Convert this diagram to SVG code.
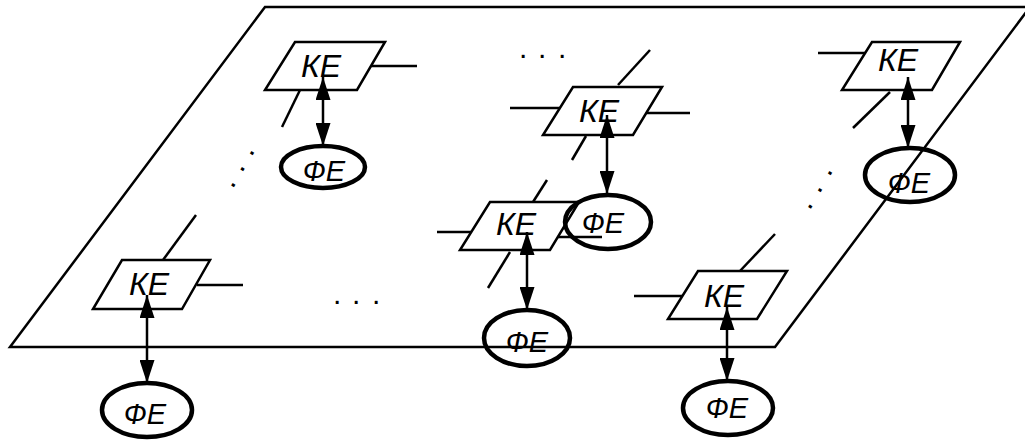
<svg xmlns="http://www.w3.org/2000/svg" width="1025" height="443" viewBox="0 0 1025 443">
<style>
.plane{fill:none;stroke:#000;stroke-width:2.5}
.ke{fill:#fff;stroke:#000;stroke-width:2.5;stroke-linejoin:miter}
.fe{fill:none;stroke:#000;stroke-width:4.5}
.stub{stroke:#000;stroke-width:2.5;fill:none}
.arr{stroke:#000;stroke-width:2.5;fill:none;marker-start:url(#ah);marker-end:url(#ah)}
.tk{font-family:"Liberation Sans",Arial,sans-serif;font-style:italic;font-size:32px;text-anchor:middle;fill:#000}
.tf{font-family:"Liberation Sans",Arial,sans-serif;font-style:italic;font-size:29px;text-anchor:middle;fill:#000}
.dots{font-family:"Liberation Sans",Arial,sans-serif;font-size:30px;fill:#000}
</style>
<defs>
<marker id="ah" markerUnits="userSpaceOnUse" markerWidth="23" markerHeight="15" refX="23" refY="7.5" orient="auto-start-reverse" viewBox="0 0 23 15">
<path d="M0,0 L23,7.5 L0,15 z" fill="#000"/>
</marker>
</defs>
<rect width="1025" height="443" fill="#fff"/>
<polygon class="plane" points="265,7 1030,7 775,347 10,347"/>
<g id="dots">
<text class="dots" x="519 538 558" y="58">...</text>
<text class="dots" x="333 352 372" y="304">...</text>
<text class="dots" transform="translate(252,153) rotate(120.5)" x="-4 14.5 33" y="1.5">...</text>
<text class="dots" transform="translate(830,173) rotate(120.5)" x="-4 15.6 34.8" y="1.5">...</text>
</g>
<g id="connectors">
<line class="stub" x1="371" y1="66" x2="417" y2="66"/>
<line class="stub" x1="300" y1="90" x2="282" y2="127"/>
<line class="stub" x1="510" y1="108" x2="560" y2="108"/>
<line class="stub" x1="647" y1="113" x2="690" y2="113"/>
<line class="stub" x1="618" y1="85" x2="650" y2="50"/>
<line class="stub" x1="586" y1="136" x2="572" y2="160"/>
<line class="stub" x1="818" y1="53" x2="865" y2="53"/>
<line class="stub" x1="890" y1="92" x2="853" y2="128"/>
<line class="stub" x1="437" y1="232" x2="473" y2="232"/>
<line class="stub" x1="558" y1="237" x2="602" y2="237"/>
<line class="stub" x1="547" y1="180" x2="533" y2="202"/>
<line class="stub" x1="510" y1="252" x2="488" y2="288"/>
<line class="stub" x1="197" y1="285" x2="243" y2="285"/>
<line class="stub" x1="163" y1="260" x2="196" y2="215"/>
<line class="stub" x1="634" y1="296" x2="683" y2="296"/>
<line class="stub" x1="740" y1="271" x2="775" y2="234"/>
</g>
<g id="ke1"><polygon class="ke" points="295,42 385,42 357,90 265,90"/><text class="tk" x="321" y="77">КЕ</text></g>
<g id="ke2"><polygon class="ke" points="573,87 662,87 633,135 543,135"/><text class="tk" x="599" y="122">КЕ</text></g>
<g id="ke3"><polygon class="ke" points="872,42 960,42 932,90 842,90"/><text class="tk" x="898" y="71">КЕ</text></g>
<g id="ke4"><polygon class="ke" points="490,202 579,202 550,250 460,250"/><text class="tk" x="516" y="235">КЕ</text></g>
<g id="ke5"><polygon class="ke" points="122,260 210,260 182,309 93,309"/><text class="tk" x="149" y="295">КЕ</text></g>
<g id="ke6"><polygon class="ke" points="698,271 787,271 757,319 668,319"/><text class="tk" x="724" y="307">КЕ</text></g>
<g id="fe1"><ellipse class="fe" cx="323" cy="167" rx="42" ry="21"/><text class="tf" x="324" y="181">ФЕ</text></g>
<g id="fe2"><ellipse class="fe" cx="608" cy="222" rx="43" ry="27"/><text class="tf" x="603" y="233">ФЕ</text></g>
<g id="fe3"><ellipse class="fe" cx="910" cy="175" rx="45" ry="27"/><text class="tf" x="909" y="193">ФЕ</text></g>
<g id="fe4"><ellipse class="fe" cx="527" cy="338" rx="43" ry="28"/><text class="tf" x="527" y="352">ФЕ</text></g>
<g id="fe5"><ellipse class="fe" cx="147" cy="410" rx="45" ry="27"/><text class="tf" x="145" y="424">ФЕ</text></g>
<g id="fe6"><ellipse class="fe" cx="728" cy="408" rx="45" ry="27"/><text class="tf" x="727" y="418">ФЕ</text></g>
<g id="arrows">
<line class="arr" x1="323" y1="77" x2="323" y2="146"/>
<line class="arr" x1="607" y1="115" x2="607" y2="194"/>
<line class="arr" x1="908" y1="77" x2="908" y2="148"/>
<line class="arr" x1="527" y1="232" x2="527" y2="310"/>
<line class="arr" x1="147" y1="295" x2="147" y2="383"/>
<line class="arr" x1="727" y1="307" x2="727" y2="381"/>
</g>
</svg>
